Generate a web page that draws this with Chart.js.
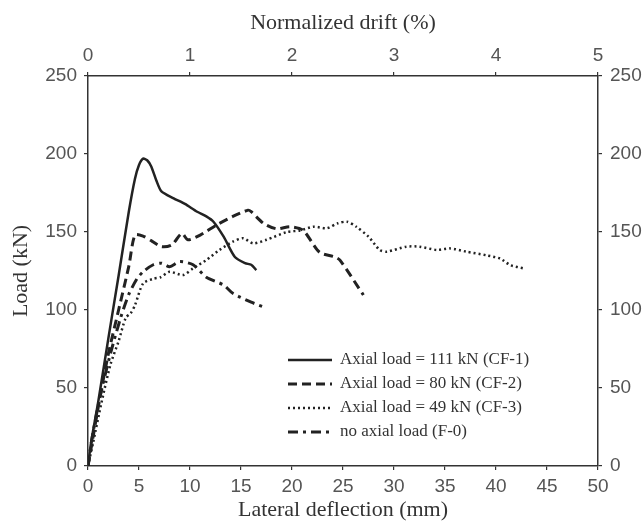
<!DOCTYPE html>
<html>
<head>
<meta charset="utf-8">
<script src="https://cdn.jsdelivr.net/npm/chart.js@4/dist/chart.umd.min.js"></script>
<style>
  html, body { margin: 0; padding: 0; background: #fff; }
  #wrap { width: 644px; height: 523px; }
</style>
</head>
<body>
<div id="wrap"><canvas id="loadChart" width="644" height="523"></canvas></div>
<script>
// lateral deflection (mm) / load (kN)
const cf1X = [0, 0.3, 1, 2, 3, 4, 4.6, 5.0, 5.4, 5.8, 6.2, 6.7, 7.2, 8.4, 9.5, 10.7, 11.6, 12.3, 13.3, 14.4, 15.4, 16.0, 16.5];
const cf1Y = [0, 15, 41, 82, 122, 163, 184, 193, 197, 196, 192, 183, 176, 171.6, 168, 163, 160, 156.6, 147, 134, 130, 129, 125.6];

const cf2X = [0, 0.4, 1.2, 2, 3, 4, 4.6, 5.4, 6.3, 7.2, 8.2, 9.2, 9.8, 11.0, 12.6, 14.2, 15.7, 16.0, 17.2, 18.5, 19.8, 21.1, 22.7, 24.2, 24.7, 27.0];
const cf2Y = [0, 15, 45, 72, 100, 128, 148, 147.4, 144, 140.6, 141.7, 149, 145, 148, 154.5, 160, 164, 163, 155.6, 152, 153.4, 151, 137, 134, 132, 109.6];

const cf3X = [0, 0.5, 1.3, 2.2, 3, 3.7, 4.2, 4.6, 5.4, 6.4, 7.1, 8.0, 9.3, 10.3, 11.6, 12.9, 14.2, 15.2, 16.2, 17.5, 19.5, 20.8, 22.1, 23.4, 24.5, 25.4, 26.3, 27.5, 28.6, 29.3, 31.2, 32.5, 34.2, 35.5, 37.1, 39.1, 40.4, 41.4, 42.7];
const cf3Y = [0, 15, 40, 65, 80, 95, 98, 103, 117, 120, 121, 124.5, 122.4, 126.7, 132, 138.5, 143.8, 146, 142.7, 145, 150, 151, 153.4, 152.4, 155.6, 156.6, 153.4, 147, 138.5, 137.4, 140.6, 140.6, 138.5, 139.5, 137.4, 135, 133, 128.8, 126.7];

const f0X = [0, 0.4, 1.2, 2.2, 3.2, 4.0, 4.8, 5.4, 6.4, 7.2, 8.0, 9.0, 10.3, 11.6, 13.3, 14.2, 16.0, 17.2];
const f0Y = [0, 18, 45, 72, 95, 110, 120, 124.5, 129, 130, 127.8, 131, 129, 121, 116, 110.7, 105, 102];

const seriesLabels = [
    'Axial load = 111 kN (CF-1)',
    'Axial load = 80 kN (CF-2)',
    'Axial load = 49 kN (CF-3)',
    'no axial load (F-0)'
];

const deflectionTicks = [0, 5, 10, 15, 20, 25, 30, 35, 40, 45, 50];
const driftTicks = [0, 1, 2, 3, 4, 5];
const loadTicks = [0, 50, 100, 150, 200, 250];

function toPoints(xs, ys) {
    return xs.map((x, i) => ({ x: x, y: ys[i] }));
}

const lineColor = '#222';
const axisColor = '#333';
const tickFont = { family: '"Liberation Sans", Arial, sans-serif', size: 19 };
const titleFont = { family: '"Liberation Serif", "Times New Roman", serif', size: 22 };

function gridOpts() {
    return {
        drawOnChartArea: false,
        drawTicks: true,
        tickLength: 4,
        color: axisColor,
        lineWidth: 1.2
    };
}
const borderOpts = { display: true, color: axisColor, width: 1.5 };

// legend drawn inside the plot, lower right
const insideLegend = {
    id: 'insideLegend',
    afterDatasetsDraw(chart) {
        const ctx = chart.ctx;
        const rows = [360, 384, 408, 432];
        ctx.save();
        chart.data.datasets.forEach((ds, i) => {
            const y = rows[i];
            ctx.beginPath();
            ctx.setLineDash(ds.borderDash || []);
            ctx.lineWidth = ds.borderWidth;
            ctx.strokeStyle = ds.borderColor;
            ctx.moveTo(288, y);
            ctx.lineTo(332, y);
            ctx.stroke();
            ctx.setLineDash([]);
            ctx.fillStyle = '#333';
            ctx.font = '17px "Liberation Serif", "Times New Roman", serif';
            ctx.textBaseline = 'middle';
            ctx.textAlign = 'left';
            ctx.fillText(seriesLabels[i], 340, y);
        });
        ctx.restore();
    }
};

new Chart(document.getElementById('loadChart'), {
    type: 'scatter',
    data: {
        datasets: [
            { label: seriesLabels[0], data: toPoints(cf1X, cf1Y), borderColor: lineColor, borderWidth: 2.5, borderDash: [] },
            { label: seriesLabels[1], data: toPoints(cf2X, cf2Y), borderColor: lineColor, borderWidth: 3, borderDash: [9, 5] },
            { label: seriesLabels[2], data: toPoints(cf3X, cf3Y), borderColor: lineColor, borderWidth: 2.5, borderDash: [2, 3] },
            { label: seriesLabels[3], data: toPoints(f0X, f0Y), borderColor: lineColor, borderWidth: 3, borderDash: [10, 5, 3, 5] }
        ].map(ds => Object.assign(ds, { showLine: true, pointRadius: 0, tension: 0.25, fill: false }))
    },
    plugins: [insideLegend],
    options: {
        responsive: false,
        animation: false,
        layout: { padding: 0 },
        plugins: {
            legend: { display: false },
            tooltip: { enabled: false }
        },
        scales: {
            x: {
                type: 'linear',
                position: 'bottom',
                min: 0,
                max: 50,
                afterBuildTicks: s => { s.ticks = deflectionTicks.map(v => ({ value: v })); },
                afterFit: s => { s.height = 57; },
                ticks: { color: '#555', font: tickFont, padding: 5, maxRotation: 0 },
                grid: gridOpts(),
                border: borderOpts,
                title: { display: true, text: 'Lateral deflection (mm)', color: '#333', font: titleFont, padding: { top: 0, bottom: 0 } }
            },
            x2: {
                type: 'linear',
                position: 'top',
                min: 0,
                max: 5,
                afterBuildTicks: s => { s.ticks = driftTicks.map(v => ({ value: v })); },
                afterFit: s => { s.height = 76; },
                ticks: { color: '#555', font: tickFont, padding: 5, maxRotation: 0 },
                grid: gridOpts(),
                border: borderOpts,
                title: { display: true, text: 'Normalized drift (%)', color: '#333', font: titleFont, padding: { top: 10, bottom: 0 } }
            },
            y: {
                type: 'linear',
                position: 'left',
                min: 0,
                max: 250,
                afterBuildTicks: s => { s.ticks = loadTicks.map(v => ({ value: v })); },
                afterFit: s => { s.width = 88; },
                ticks: { color: '#555', font: tickFont, padding: 7 },
                grid: gridOpts(),
                border: borderOpts,
                title: { display: true, text: 'Load (kN)', color: '#333', font: titleFont, padding: { top: 8, bottom: 0 } }
            },
            y2: {
                type: 'linear',
                position: 'right',
                min: 0,
                max: 250,
                afterBuildTicks: s => { s.ticks = loadTicks.map(v => ({ value: v })); },
                afterFit: s => { s.width = 46; },
                ticks: { color: '#555', font: tickFont, padding: 8 },
                grid: gridOpts(),
                border: borderOpts
            }
        }
    }
});
</script>
</body>
</html>
